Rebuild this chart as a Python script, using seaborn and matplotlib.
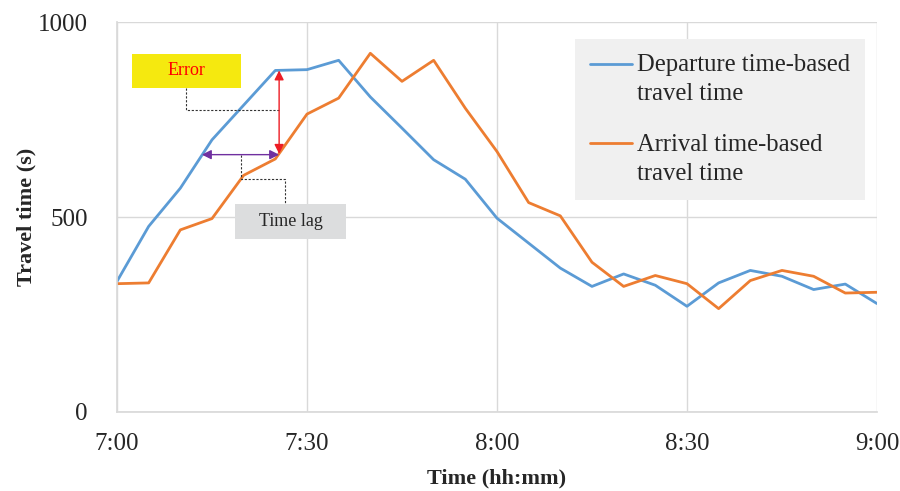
import numpy as np
import pandas as pd
import seaborn as sns
import matplotlib.pyplot as plt
from matplotlib.patches import Rectangle

# travel times every 5 min, 7:00 -> 9:00
times = ["7:00", "7:05", "7:10", "7:15", "7:20", "7:25", "7:30", "7:35", "7:40",
         "7:45", "7:50", "7:55", "8:00", "8:05", "8:10", "8:15", "8:20", "8:25",
         "8:30", "8:35", "8:40", "8:45", "8:50", "8:55", "9:00"]
departure_tt = [335, 476, 574, 698, 787, 876, 878, 902, 808, 728, 647, 597, 497,
                433, 369, 322, 354, 325, 271, 331, 363, 348, 314, 328, 278]
arrival_tt = [329, 331, 467, 496, 607, 649, 764, 805, 920, 848, 902, 779, 668,
              537, 503, 384, 322, 350, 329, 265, 337, 363, 348, 305, 307]

tick_labels = ["7:00", "7:30", "8:00", "8:30", "9:00"]
y_ticks = [0, 500, 1000]

dep_label = "Departure time-based\ntravel time"
arr_label = "Arrival time-based\ntravel time"


def to_min(t):
    h, m = t.split(":")
    return (int(h) - 7) * 60 + int(m)


df = pd.DataFrame({
    "minute": [to_min(t) for t in times] * 2,
    "travel_time": departure_tt + arrival_tt,
    "series": [dep_label] * len(times) + [arr_label] * len(times),
})

sns.set_theme(style="white")
plt.rcParams["font.family"] = ["Liberation Serif", "DejaVu Serif"]

fig = plt.figure(figsize=(9, 4.91), dpi=100)
ax = fig.add_axes([0.13, 0.161, 0.8444, 0.794])

sns.lineplot(data=df, x="minute", y="travel_time", hue="series",
             palette={dep_label: "#5B9BD5", arr_label: "#ED7D31"},
             linewidth=2.0, ax=ax)

ax.set_xlim(0, 120)
ax.set_ylim(0, 1000)
ax.set_xticks([to_min(t) for t in tick_labels])
ax.set_xticklabels(tick_labels)
ax.set_yticks(y_ticks)
ax.grid(True, color="#D9D9D9", linewidth=1.0)
ax.set_axisbelow(True)
for s in ax.spines.values():
    s.set_visible(False)
ax.spines["left"].set_visible(True)
ax.spines["bottom"].set_visible(True)
ax.spines["left"].set_color("#D9D9D9")
ax.spines["bottom"].set_color("#D9D9D9")
ax.tick_params(axis="both", length=0, labelsize=18, colors="#262626")
ax.tick_params(axis="x", pad=15)
ax.tick_params(axis="y", pad=21)

ax.set_xlabel("Time (hh:mm)", fontsize=16, fontweight="bold", labelpad=10)
ax.set_ylabel("Travel time (s)", fontsize=16, fontweight="bold")
ax.yaxis.set_label_coords(-0.106, 0.5)

leg = ax.legend(loc="upper left", bbox_to_anchor=(0.603, 0.956), borderaxespad=0,
                fontsize=17.7, frameon=True, facecolor="#F0F0F0", edgecolor="none",
                framealpha=1, fancybox=False, handlelength=1.68, handletextpad=0.2,
                labelspacing=1.16, borderpad=0.62)
for t in leg.get_texts():
    t.set_color("#262626")
    t.set_linespacing(1.4)
# Excel puts the legend key next to the first line of a wrapped label
for ln in leg.get_lines():
    ln.set_ydata(np.asarray(ln.get_ydata()) + 11.5)

# Error annotation
ax.add_patch(Rectangle((2.3, 832), 17.3, 87, facecolor="#F5E90F", edgecolor="none", zorder=3))
ax.text(10.95, 875, "Error", ha="center", va="center", fontsize=13, color="#FF0000", zorder=4)
ax.plot([10.9, 10.9, 25.6], [832, 775, 775], ls=(0, (2, 1.5)), color="#333333", lw=0.8)
ax.annotate("", xy=(25.6, 876), xytext=(25.6, 662),
            arrowprops=dict(arrowstyle="<|-|>", color="#ED1C24", lw=1.0,
                            mutation_scale=14, shrinkA=0, shrinkB=0))

# Time lag annotation
ax.plot([19.6, 19.6, 26.6, 26.6], [660, 597, 597, 534], ls=(0, (2, 1.5)), color="#333333", lw=0.8)
ax.annotate("", xy=(13.4, 660), xytext=(25.6, 660),
            arrowprops=dict(arrowstyle="<|-|>", color="#7030A0", lw=1.0,
                            mutation_scale=14, shrinkA=0, shrinkB=0))
ax.add_patch(Rectangle((18.7, 444), 17.4, 90, facecolor="#DCDDDE", edgecolor="none", zorder=3))
ax.text(27.4, 489, "Time lag", ha="center", va="center", fontsize=13, color="#262626", zorder=4)

fig.savefig("out.png", dpi=100)
